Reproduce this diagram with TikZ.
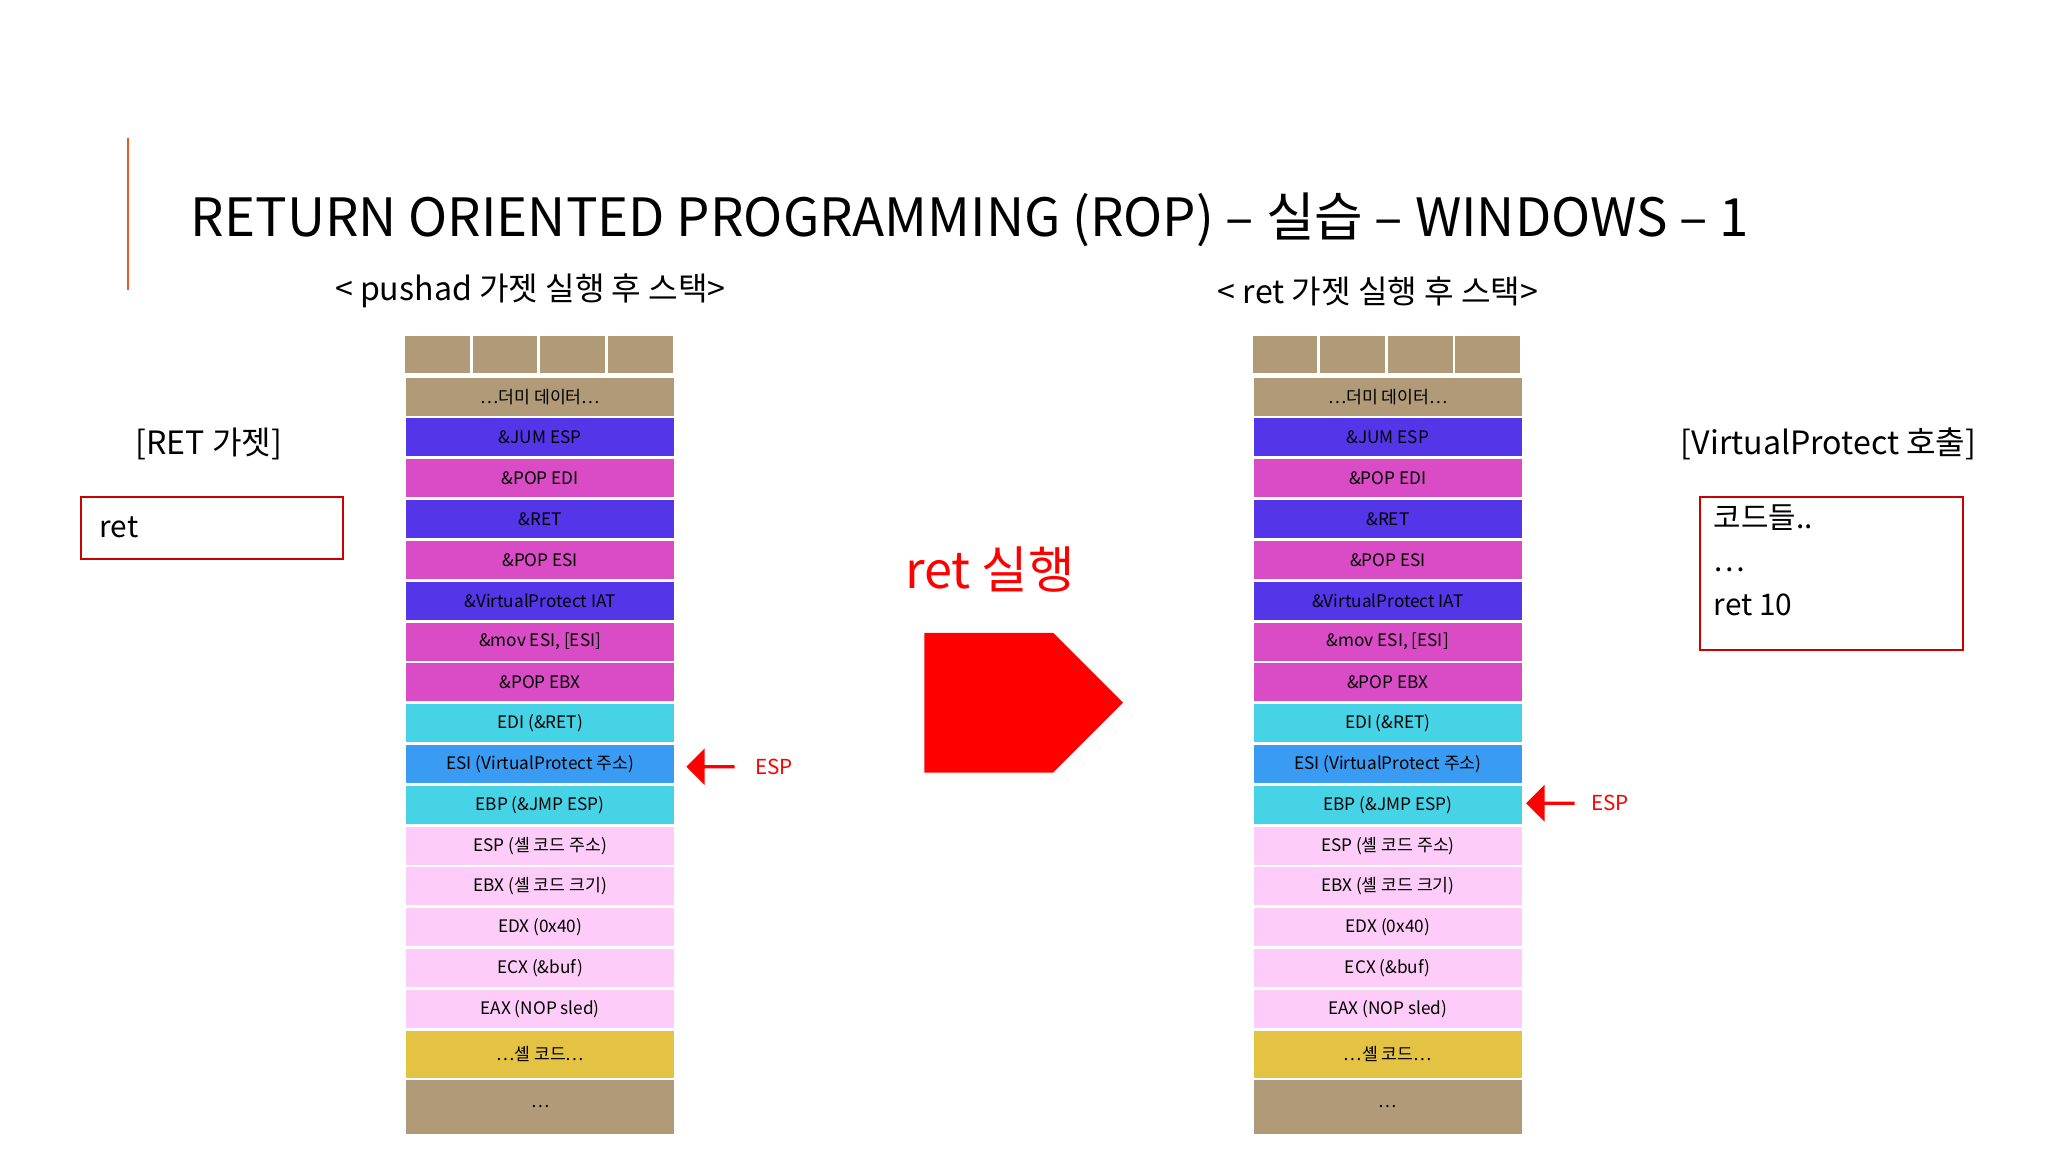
\documentclass[tikz,border=0pt]{standalone}
\usepackage{fontspec}
\setmainfont{Noto Sans CJK KR}
\usetikzlibrary{shapes.arrows}
\definecolor{tan}{HTML}{B09A78}
\definecolor{vio}{HTML}{5436E8}
\definecolor{mag}{HTML}{D94CC6}
\definecolor{cya}{HTML}{46D3E6}
\definecolor{azu}{HTML}{3A9BF2}
\definecolor{pnk}{HTML}{FDCCF8}
\definecolor{yel}{HTML}{E4C244}
\definecolor{rd}{HTML}{FF0000}
\tikzset{cell/.style={draw=white,line width=1.2pt,minimum width=207*0.02cm,inner sep=0pt,font=\fontsize{7.5}{8}\selectfont,text=black},
 lbl/.style={font=\fontsize{14}{16}\selectfont},
 box/.style={draw=rd!80!black,line width=0.8pt}}
\begin{document}
\begin{tikzpicture}[x=0.02cm,y=-0.02cm]
\useasboundingbox (0,0) rectangle (1568,882);
\fill[white] (0,0) rectangle (1568,882);
\draw[color={rgb,255:red,230;green,90;blue,40},line width=1.2pt] (98,106) -- (98,222);
\node[anchor=west,font=\fontsize{23}{26}\selectfont] (title) at (140,168) {RETURN ORIENTED PROGRAMMING (ROP) – 실습 – WINDOWS – 1};
\node[lbl] (h1) at (406,223) {< pushad 가젯 실행 후 스택>};
\node[lbl] (h2) at (1055,223) {< ret 가젯 실행 후 스택>};
\node[lbl] (rg) at (160,340) {[RET 가젯]};
\node[box,anchor=north west,minimum width=201*0.02cm,minimum height=47*0.02cm] (rb) at (61,380) {};
\node[lbl,anchor=west,font=\fontsize{13}{15}\selectfont] (rbt) at (70,404) {ret};
\node[lbl] (vg) at (1400,340) {[VirtualProtect 호출]};
\node[box,anchor=north west,minimum width=201*0.02cm,minimum height=117*0.02cm] (vb) at (1301,380) {};
\node[anchor=north west,align=left,font=\fontsize{13}{19}\selectfont] (vbt) at (1306,380) {코드들..\\…\\ret 10};
\node[text=rd,font=\fontsize{22}{24}\selectfont] (rs) at (758,436) {ret 실행};
\node[single arrow,fill=rd,minimum height=152*0.02cm,minimum width=107*0.02cm,single arrow head extend=0pt,inner sep=0pt,single arrow tip angle=90] (big) at (757,538) {};
\foreach \X/\p in {309/L,958/R}{
 \foreach \i in {0,1,2,3}{\fill[tan,draw=white,line width=1.2pt] (\X+\i*51.75,256) rectangle ++(51.75,31);}
 \foreach \t/\c [count=\k from 0] in {…더미 데이터…/tan,\&JUM ESP/vio,\&POP EDI/mag,\&RET/vio,\&POP ESI/mag,\&VirtualProtect IAT/vio,\&mov ESI{,} [ESI]/mag,\&POP EBX/mag,EDI (\&RET)/cya,ESI (VirtualProtect 주소)/azu,EBP (\&JMP ESP)/cya,ESP (셸 코드 주소)/pnk,EBX (셸 코드 크기)/pnk,EDX (0x40)/pnk,ECX (\&buf)/pnk,EAX (NOP sled)/pnk}{
  \node[cell,fill=\c,minimum height=31.25*0.02cm,anchor=north west] (\p\k) at (\X,287+\k*31.25) {\t};}
 \node[cell,fill=yel,minimum height=38*0.02cm,anchor=north west] (\p y) at (\X,787) {…셸 코드…};
 \node[cell,fill=tan,minimum height=43*0.02cm,anchor=north west] (\p z) at (\X,825) {…};
}
\node[single arrow,fill=rd,shape border rotate=180,minimum height=37*0.02cm,minimum width=28*0.02cm,single arrow head extend=2pt,inner sep=0pt,anchor=tip] (ea) at (525,587) {};
\node[text=rd,font=\fontsize{9}{10}\selectfont,anchor=west] (et) at (572,587) {ESP};
\node[single arrow,fill=rd,shape border rotate=180,minimum height=37*0.02cm,minimum width=28*0.02cm,single arrow head extend=2pt,inner sep=0pt,anchor=tip] (eb) at (1168,615) {};
\node[text=rd,font=\fontsize{9}{10}\selectfont,anchor=west] (et2) at (1212,615) {ESP};
\end{tikzpicture}
\end{document}
